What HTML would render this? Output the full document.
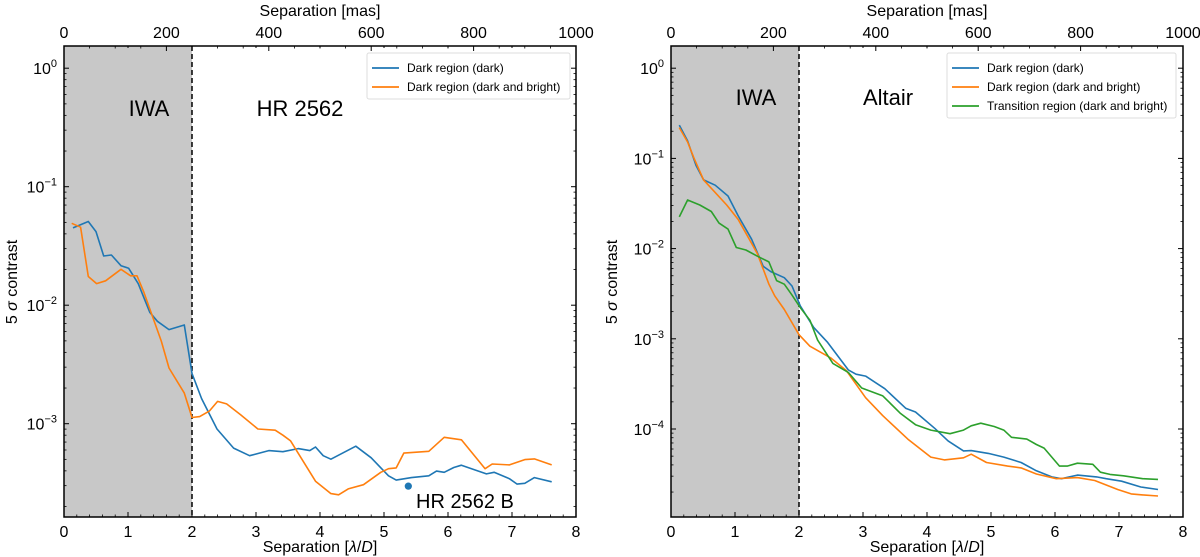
<!DOCTYPE html>
<html><head><meta charset="utf-8"><style>
html,body{margin:0;padding:0;background:#fff;}
svg{display:block;font-family:"Liberation Sans",sans-serif;}
</style></head><body>
<svg id="chart" width="1200" height="557" viewBox="0 0 1200 557"></svg>
<script>
// ---- data (x in lambda/D, values as log10 contrast) ----
const leftBlueX=[0.14,0.38,0.5,0.62,0.74,0.89,1.01,1.16,1.34,1.46,1.64,1.88,2.0,2.15,2.39,2.65,2.9,3.2,3.42,3.66,3.84,3.93,4.05,4.17,4.56,4.8,5.07,5.19,5.43,5.7,5.82,5.94,6.09,6.21,6.6,6.72,6.96,7.08,7.2,7.35,7.62];
const leftBlueLog=[-1.348,-1.294,-1.379,-1.585,-1.576,-1.667,-1.688,-1.818,-2.06,-2.136,-2.206,-2.167,-2.576,-2.788,-3.045,-3.206,-3.27,-3.227,-3.236,-3.21,-3.227,-3.197,-3.27,-3.30,-3.19,-3.288,-3.44,-3.476,-3.455,-3.44,-3.4,-3.41,-3.37,-3.35,-3.424,-3.41,-3.464,-3.51,-3.503,-3.455,-3.49];
const leftOrangeX=[0.12,0.26,0.38,0.51,0.65,0.89,1.04,1.14,1.25,1.52,1.64,1.88,2.0,2.12,2.27,2.4,2.54,2.76,3.03,3.3,3.42,3.54,3.93,4.17,4.29,4.44,4.68,4.95,5.07,5.19,5.31,5.7,5.94,6.21,6.58,6.69,6.96,7.2,7.35,7.62];
const leftOrangeLog=[-1.309,-1.342,-1.758,-1.818,-1.794,-1.697,-1.752,-1.752,-1.894,-2.303,-2.53,-2.742,-2.948,-2.94,-2.894,-2.812,-2.833,-2.924,-3.045,-3.055,-3.097,-3.145,-3.485,-3.59,-3.6,-3.55,-3.515,-3.41,-3.38,-3.373,-3.248,-3.233,-3.115,-3.136,-3.38,-3.34,-3.348,-3.303,-3.297,-3.348];
const companionX=[5.38];
const companionLog=[-3.527];
const rightBlueX=[0.13,0.26,0.39,0.51,0.69,0.89,1.05,1.26,1.44,1.56,1.77,1.89,2.02,2.23,2.44,2.77,2.89,3.04,3.34,3.67,3.82,4.12,4.33,4.57,4.69,4.96,5.2,5.47,5.71,5.95,6.1,6.35,6.65,6.8,7.04,7.34,7.61];
const rightBlueLog=[-0.631,-0.806,-1.078,-1.238,-1.297,-1.417,-1.637,-1.896,-2.196,-2.255,-2.323,-2.415,-2.635,-2.874,-3.034,-3.345,-3.393,-3.413,-3.553,-3.772,-3.812,-3.992,-4.132,-4.243,-4.24,-4.271,-4.311,-4.371,-4.463,-4.531,-4.551,-4.511,-4.531,-4.551,-4.579,-4.643,-4.671];
const rightOrangeX=[0.13,0.26,0.36,0.51,0.87,1.05,1.35,1.53,1.62,1.77,2.0,2.17,2.35,2.5,2.74,3.04,3.31,3.7,4.06,4.27,4.57,4.69,4.93,5.26,5.47,5.71,6.02,6.35,6.62,6.98,7.19,7.37,7.61];
const rightOrangeLog=[-0.659,-0.818,-0.998,-1.238,-1.517,-1.677,-2.056,-2.395,-2.523,-2.675,-2.954,-3.082,-3.154,-3.214,-3.353,-3.653,-3.852,-4.112,-4.311,-4.343,-4.319,-4.279,-4.371,-4.411,-4.431,-4.499,-4.551,-4.539,-4.571,-4.671,-4.719,-4.731,-4.743];
const rightGreenX=[0.13,0.26,0.45,0.63,0.75,0.89,1.02,1.17,1.35,1.53,1.65,1.77,1.89,2.02,2.17,2.29,2.53,2.77,2.98,3.31,3.58,3.82,4.06,4.36,4.57,4.69,4.84,5.05,5.2,5.32,5.56,5.71,5.83,6.07,6.19,6.35,6.59,6.71,6.86,7.07,7.37,7.61];
const rightGreenLog=[-1.649,-1.461,-1.517,-1.589,-1.717,-1.784,-1.988,-2.016,-2.084,-2.148,-2.355,-2.395,-2.515,-2.655,-2.794,-3.014,-3.273,-3.373,-3.545,-3.633,-3.824,-3.952,-4.012,-4.052,-4.012,-3.964,-3.936,-3.972,-4.012,-4.092,-4.112,-4.172,-4.212,-4.411,-4.411,-4.379,-4.391,-4.479,-4.503,-4.519,-4.551,-4.559];
const xTicks=[0,1,2,3,4,5,6,7,8];
const masTicks=[0,200,400,600,800,1000];
const leftDecades=[0,-1,-2,-3];
const rightDecades=[0,-1,-2,-3,-4];

const NS="http://www.w3.org/2000/svg";
const svg=document.getElementById('chart');
function mk(tag,attrs,parent){const e=document.createElementNS(NS,tag);for(const k in attrs)e.setAttribute(k,attrs[k]);(parent||svg).appendChild(e);return e;}
const BLUE="#1f77b4",ORANGE="#ff7f0e",GREEN="#2ca02c";

function panel(cfg){
  const g=mk('g',{});
  
  
  const L=cfg.x0,R=cfg.x1,T=46,B=517;
  const xs=v=>L+(R-L)*v/8;
  const ys=lg=>cfg.yRef+(cfg.refLog-lg)*cfg.dec;
  const sh=mk('rect',{x:L,y:T,width:xs(2)-L,height:B-T,fill:'#c8c8c8'},g);
  
  
  const dl=mk('line',{x1:xs(2),x2:xs(2),y1:T,y2:B,stroke:'#000','stroke-width':1.5,'stroke-dasharray':'5,3'},g);
  
  
  const cid='clip'+cfg.name;
  const cp=mk('clipPath',{id:cid},g);mk('rect',{x:L,y:T,width:R-L,height:B-T},cp);
  const lg=mk('g',{'clip-path':'url(#'+cid+')'},g);
  cfg.series.forEach(s=>{
    const d=s.x.map((v,i)=>(i?'L':'M')+xs(v).toFixed(1)+','+ys(s.y[i]).toFixed(1)).join('');
    const p=mk('path',{d:d,fill:'none',stroke:s.c,'stroke-width':1.6,'stroke-linejoin':'round'},lg);
    
    
  });
  const fr=mk('rect',{x:L,y:T,width:R-L,height:B-T,fill:'none',stroke:'#000','stroke-width':1.5},g);
  
  
  xTicks.forEach(v=>{
    mk('line',{x1:xs(v),x2:xs(v),y1:B,y2:B-5,stroke:'#000'},g);
    mk('line',{x1:xs(v),x2:xs(v),y1:T,y2:T+2,stroke:'#000'},g);
    const t=mk('text',{x:xs(v),y:B+20,'text-anchor':'middle','font-size':16},g);t.textContent=v;
    
    
  });
  for(let v=0;v<=8.001;v+=0.2){mk('line',{x1:xs(v),x2:xs(v),y1:B,y2:B-2.5,stroke:'#000','stroke-width':0.8},g);}
  for(let m=0;m<=1000;m+=50){const X=xs(m*8/1000);mk('line',{x1:X,x2:X,y1:T,y2:T+(m%200==0?5:2.5),stroke:'#000','stroke-width':m%200==0?1:0.8},g);}
  masTicks.forEach(m=>{
    const t=mk('text',{x:xs(m*8/1000),y:T-8,'text-anchor':'middle','font-size':16},g);t.textContent=m;
    
    
  });
  const lo=cfg.refLog-(B-cfg.yRef)/cfg.dec, hi=cfg.refLog+(cfg.yRef-T)/cfg.dec;
  for(let d=Math.floor(lo);d<=Math.ceil(hi);d++){
    for(let k=1;k<10;k++){const l=d+Math.log10(k);if(l<lo||l>hi)continue;const Y=ys(l);
      mk('line',{x1:L,x2:L+(k==1?5:2.5),y1:Y,y2:Y,stroke:'#000','stroke-width':k==1?1:0.8},g);
      mk('line',{x1:R,x2:R-(k==1?5:2.5),y1:Y,y2:Y,stroke:'#000','stroke-width':k==1?1:0.8},g);}
  }
  cfg.decades.forEach(d=>{
    const t=mk('text',{x:L-7,y:ys(d)+6,'text-anchor':'end','font-size':16},g);
    
    
    t.appendChild(document.createTextNode('10'));
    const s=mk('tspan',{dy:-7,'font-size':11},t);s.textContent=d==0?'0':'\u2212'+(-d);
  });
  const xt=mk('text',{x:(L+R)/2,y:552,'text-anchor':'middle','font-size':16},g);
  xt.innerHTML='Separation [<tspan font-style="italic">λ</tspan>/<tspan font-style="italic">D</tspan>]';
  
  
  const tt=mk('text',{x:(L+R)/2,y:16,'text-anchor':'middle','font-size':16},g);tt.textContent='Separation [mas]';
  
  
  const yt=mk('text',{transform:'translate('+(cfg.ylx)+',282) rotate(-90)','text-anchor':'middle','font-size':16},g);
  yt.innerHTML='5 <tspan font-style="italic">σ</tspan> contrast';
  
  
  cfg.texts.forEach(a=>{const t=mk('text',{x:a.x,y:a.y,'text-anchor':a.anchor||'middle','font-size':a.fs},g);t.textContent=a.t;
    
    });
  const lgd=mk('g',{},g);
  
  
  mk('rect',{x:cfg.legX,y:53,width:cfg.legW,height:8+cfg.series.length*19,fill:'#fff',stroke:'#ddd',rx:2},lgd);
  cfg.series.forEach((s,i)=>{
    const Y=68+i*19;
    mk('line',{x1:cfg.legX+5,x2:cfg.legX+32,y1:Y,y2:Y,stroke:s.c,'stroke-width':1.8},lgd);
    const t=mk('text',{x:cfg.legX+40,y:Y+4,'font-size':12},lgd);t.textContent=s.label;
    
    
  });
  return {g,xs,ys};
}

const left=panel({name:'left-panel-hr2562',x0:64,x1:576,yRef:68.2,refLog:0,dec:118.5,decades:leftDecades,ylx:17,legX:367,legW:203,
  series:[{x:leftBlueX,y:leftBlueLog,c:BLUE,name:'dark-region-dark-line',label:'Dark region (dark)'},
          {x:leftOrangeX,y:leftOrangeLog,c:ORANGE,name:'dark-region-dark-bright-line',label:'Dark region (dark and bright)'}],
  texts:[{x:149,y:116,t:'IWA',fs:22,name:'iwa-label'},{x:300,y:116,t:'HR 2562',fs:22,name:'target-label'},
         {x:416,y:508,t:'HR 2562 B',fs:20,anchor:'start',name:'companion-label'}]});
companionX.forEach((v,i)=>{
  const c=mk('circle',{cx:left.xs(v),cy:left.ys(companionLog[i]),r:3.6,fill:BLUE},left.g);
  
  
});
panel({name:'right-panel-altair',x0:671,x1:1183,yRef:68.2,refLog:0,dec:90.2,decades:rightDecades,ylx:617,legX:947,legW:229,
  series:[{x:rightBlueX,y:rightBlueLog,c:BLUE,name:'dark-region-dark-line',label:'Dark region (dark)'},
          {x:rightOrangeX,y:rightOrangeLog,c:ORANGE,name:'dark-region-dark-bright-line',label:'Dark region (dark and bright)'},
          {x:rightGreenX,y:rightGreenLog,c:GREEN,name:'transition-region-line',label:'Transition region (dark and bright)'}],
  texts:[{x:756,y:105,t:'IWA',fs:22,name:'iwa-label'},{x:888,y:105,t:'Altair',fs:22,name:'target-label'}]});
</script>
</body></html>
